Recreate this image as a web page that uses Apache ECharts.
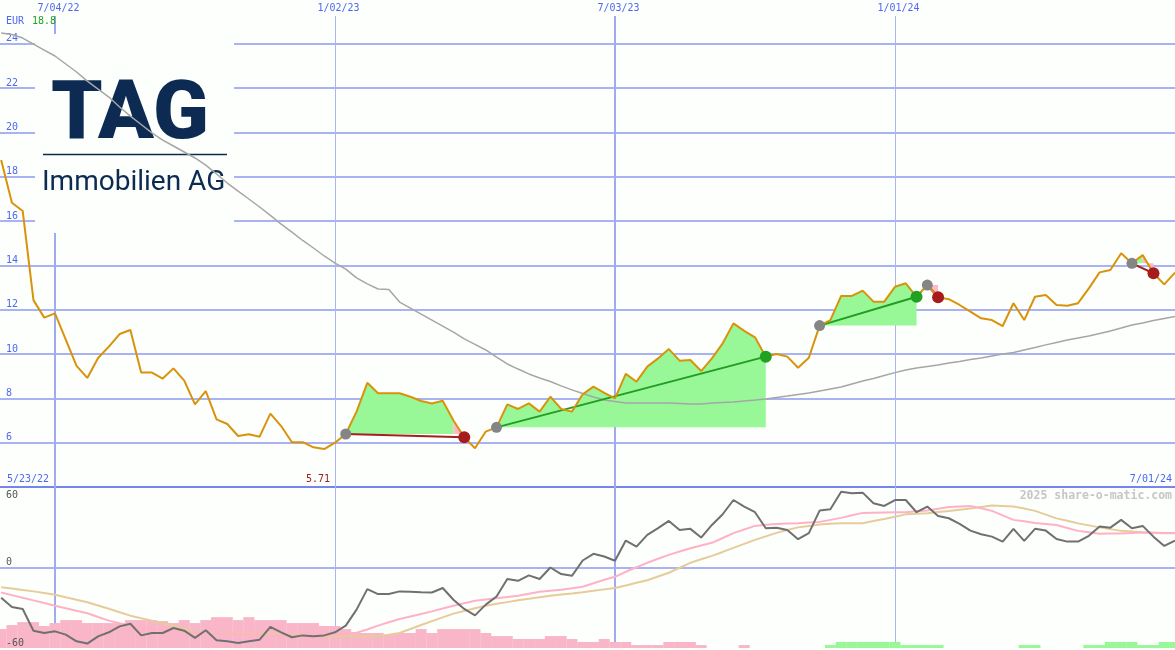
<!DOCTYPE html>
<html><head><meta charset="utf-8">
<script src="https://cdn.jsdelivr.net/npm/echarts@6/dist/echarts.min.js"></script>
<style>html,body{margin:0;padding:0;background:#fcfffc}#c{width:1175px;height:650px}</style>
</head><body><div id="c"></div><script>
// ---------------- data ----------------
const firstWeek = '2022-05-30';      // first weekly close shown
const axisOrigin = '2022-07-04';     // day-offset origin of the x scale
const dateTicks = ['2022-07-04', '2023-01-02', '2023-07-03', '2024-01-01'];
const priceTicks = [6, 8, 10, 12, 14, 16, 18, 20, 22, 24];
const oscTicksLow = [-60, 0];
const oscTicksHigh = [60];
const currency = 'EUR';
const startLabel = '5/23/22';
const endLabel = '7/01/24';
const brand = '2025 share-o-matic.com';

const price = [18.75, 16.82, 16.45, 12.43, 11.64, 11.83, 10.65, 9.46, 8.92, 9.82,
  10.33, 10.90, 11.08, 9.16, 9.16, 8.89, 9.35, 8.80, 7.73, 8.33,
  7.05, 6.84, 6.30, 6.38, 6.27, 7.31, 6.75, 6.02, 6.02, 5.79,
  5.71, 6.00, 6.39, 7.40, 8.70, 8.23, 8.23, 8.23, 8.07, 7.88,
  7.77, 7.89, 7.00, 6.24, 5.75, 6.50, 6.69, 7.73, 7.52, 7.77,
  7.40, 8.07, 7.52, 7.40, 8.18, 8.53, 8.25, 8.00, 9.10, 8.75,
  9.43, 9.80, 10.22, 9.70, 9.73, 9.23, 9.80, 10.48, 11.38, 11.04,
  10.75, 9.88, 10.00, 9.88, 9.38, 9.83, 11.28, 11.53, 12.62, 12.62,
  12.86, 12.36, 12.36, 13.03, 13.19, 12.58, 13.11, 12.56, 12.47, 12.21,
  11.91, 11.61, 11.53, 11.26, 12.29, 11.53, 12.58, 12.66, 12.21, 12.18,
  12.29, 12.96, 13.68, 13.79, 14.54, 14.09, 14.46, 13.64, 13.14, 13.67];

const movingAvg = [24.48, 24.41, 24.25, 23.98, 23.71, 23.44, 23.08, 22.72, 22.31, 21.95,
  21.59, 21.14, 20.73, 20.35, 19.97, 19.65, 19.38, 19.11, 18.84, 18.52,
  18.12, 17.71, 17.35, 16.99, 16.63, 16.25, 15.86, 15.50, 15.12, 14.78,
  14.42, 14.10, 13.83, 13.43, 13.16, 12.93, 12.91, 12.34, 12.07, 11.80,
  11.53, 11.26, 10.99, 10.68, 10.43, 10.18, 9.86, 9.55, 9.32, 9.10,
  8.92, 8.76, 8.56, 8.38, 8.22, 8.06, 7.92, 7.86, 7.79, 7.79,
  7.79, 7.79, 7.79, 7.77, 7.74, 7.74, 7.79, 7.81, 7.83, 7.88,
  7.92, 7.97, 8.04, 8.10, 8.17, 8.24, 8.33, 8.42, 8.51, 8.65,
  8.78, 8.89, 9.03, 9.16, 9.28, 9.37, 9.44, 9.50, 9.59, 9.66,
  9.75, 9.82, 9.91, 10.00, 10.07, 10.18, 10.29, 10.41, 10.52, 10.63,
  10.72, 10.81, 10.92, 11.04, 11.17, 11.31, 11.40, 11.51, 11.60, 11.69];

const oscillator = [-22.5, -29.4, -30.9, -47.1, -48.8, -47.6, -50.0, -55.0, -56.7, -51.3,
  -48.3, -43.9, -41.9, -50.6, -48.8, -48.8, -45.1, -47.1, -52.5, -46.8,
  -54.3, -55.0, -56.2, -55.0, -53.8, -44.3, -48.3, -52.0, -50.6, -51.3,
  -50.6, -48.3, -43.3, -31.4, -16.1, -19.8, -19.8, -17.8, -18.1, -18.4,
  -18.6, -15.3, -24.0, -30.9, -35.7, -27.7, -21.6, -8.6, -9.9, -5.9,
  -8.6, 0.0, -4.9, -6.2, 5.2, 10.2, 8.2, 5.0, 20.1, 15.6,
  24.3, 29.3, 34.7, 28.0, 28.8, 22.3, 31.7, 39.7, 50.3, 45.4,
  41.2, 29.3, 29.7, 28.0, 21.1, 25.6, 42.4, 43.4, 56.5, 55.3,
  55.8, 47.9, 45.9, 50.3, 50.3, 41.2, 45.4, 38.4, 36.7, 32.5,
  27.5, 24.8, 23.0, 19.3, 28.8, 19.9, 28.8, 27.5, 21.3, 19.3,
  19.3, 23.6, 30.5, 29.7, 35.5, 29.3, 31.0, 23.0, 16.1, 20.1];

const signalPink = [-18.6, -20.6, -22.6, -24.5, -26.5, -28.5, -30.4, -32.3, -34.1, -36.9,
  -39.6, -41.5, -43.3, -44.5, -45.6, -46.4, -47.1, -47.9, -48.6, -49.0,
  -49.3, -49.7, -50.0, -50.2, -50.4, -50.6, -50.8, -50.8, -50.8, -50.4,
  -50.0, -49.7, -49.3, -48.6, -46.2, -43.3, -40.8, -38.4, -36.5, -34.6,
  -32.7, -30.6, -28.5, -26.6, -24.8, -23.8, -22.9, -22.0, -21.0, -19.5,
  -18.1, -17.3, -16.6, -15.5, -14.3, -11.7, -9.1, -6.9, -3.2, 0.2,
  3.5, 6.5, 9.4, 11.9, 14.4, 16.4, 18.4, 22.0, 25.6, 28.3,
  31.0, 31.8, 32.5, 32.8, 33.0, 33.5, 34.0, 35.5, 37.0, 38.9,
  40.7, 40.9, 41.0, 41.1, 41.2, 41.9, 42.5, 43.8, 45.1, 45.5,
  45.9, 44.1, 42.2, 38.9, 35.5, 34.4, 33.2, 32.5, 31.7, 29.5,
  27.3, 26.2, 25.1, 25.3, 25.4, 25.7, 26.0, 25.9, 25.8, 25.8];

const signalTan = [-14.7, -15.7, -16.8, -17.8, -19.0, -20.3, -22.2, -24.0, -25.9, -28.3,
  -30.7, -33.3, -35.9, -37.8, -39.6, -41.5, -43.3, -45.6, -47.8, -48.5,
  -49.1, -49.2, -49.3, -49.3, -49.3, -49.6, -49.8, -50.0, -50.3, -50.8,
  -51.3, -51.3, -51.3, -51.3, -51.3, -51.3, -50.2, -48.8, -45.8, -42.9,
  -40.0, -37.2, -34.4, -32.4, -30.4, -28.5, -27.1, -25.8, -24.4, -23.3,
  -22.1, -21.0, -20.1, -19.3, -18.4, -17.4, -16.3, -15.3, -13.4, -11.4,
  -9.5, -6.7, -3.9, -0.2, 3.5, 6.1, 8.7, 11.6, 14.6, 17.6,
  20.6, 23.2, 25.8, 27.9, 29.9, 31.0, 32.1, 32.6, 33.0, 33.0,
  33.0, 34.6, 36.2, 37.9, 39.6, 40.0, 40.4, 41.3, 42.2, 43.1,
  44.0, 45.1, 46.2, 45.9, 45.5, 43.9, 42.2, 39.4, 36.6, 34.8,
  32.9, 31.4, 29.9, 28.6, 27.3, 26.8, 26.2, 25.9, 25.6, 25.6];

const histogram = [-14.1, -17.1, -19.3, -19.3, -16.4, -18.6, -20.8, -20.8, -18.6, -18.6,
  -18.6, -18.6, -20.8, -20.8, -20.8, -20.1, -18.6, -20.8, -18.6, -20.8,
  -23.0, -23.0, -20.8, -23.0, -20.8, -20.8, -20.8, -18.6, -18.6, -18.6,
  -16.4, -16.4, -14.1, -11.2, -11.2, -11.2, -9.7, -11.2, -11.2, -14.1,
  -11.2, -14.1, -14.1, -14.1, -14.1, -11.2, -8.9, -8.9, -6.7, -6.7,
  -6.7, -8.9, -8.9, -6.7, -4.5, -4.5, -6.7, -4.5, -4.5, -2.2,
  -2.2, -2.2, -4.5, -4.5, -4.5, -2.2, 0, 0, 0, -2.2,
  0, 0, 0, 0, 0, 0, 0, 2.2, 4.5, 4.5,
  4.5, 4.5, 4.5, 4.5, 2.2, 2.2, 2.2, 2.2, 0, 0,
  0, 0, 0, 0, 0, 2.2, 2.2, 0, 0, 0,
  0, 2.2, 2.2, 4.5, 4.5, 4.5, 2.2, 2.2, 4.5, 4.5];

// trades: week index of entry and exit
const tradeEntry = [32, 46, 76, 86, 105];
const tradeExit = [43, 71, 85, 87, 107];

// ---------------- helpers ----------------
const DAY = 86400000;
const originMs = Date.parse(axisOrigin);
const dayOf = s => (Date.parse(s) - originMs) / DAY;
const x0 = dayOf(firstWeek);
const weekX = price.map((_, i) => x0 + 7 * i);
const pairs = arr => arr.map((v, i) => [weekX[i], v]);
const fmtDate = v => {
  const d = new Date(originMs + Math.round(v) * DAY);
  return (d.getUTCMonth() + 1) + '/' + String(d.getUTCDate()).padStart(2, '0') + '/' + String(d.getUTCFullYear() % 100).padStart(2, '0');
};

const BG = '#fcfffc';
const BLUE_TXT = '#5068f0';
const GRID_C = '#a9b3f3';
const MONO = 'DejaVu Sans Mono';
const X_MIN = -35.75, X_MAX = 728;

const vlinesTop = dateTicks.map(s => {
  const july = s.slice(5, 7) === '07';
  return { xAxis: dayOf(s), lineStyle: { color: july ? '#a0aaf2' : '#abb4f3', width: july ? 2 : 1, type: 'solid' } };
});
const vlinesBottom = vlinesTop.map(d => ({ xAxis: d.xAxis, lineStyle: d.lineStyle }));

// ---------------- series ----------------
const series = [];

// trade fill areas
tradeEntry.forEach((e, t) => {
  const x = tradeExit[t], base = price[e];
  let runStart = e;
  for (let i = e; i < x; i++) {
    const up = price[i + 1] >= base;
    const last = i === x - 1;
    const nextUp = last ? null : price[i + 2] >= base;
    if (last || nextUp !== up) {
      const pts = [];
      for (let k = runStart; k <= i + 1; k++) pts.push([weekX[k], price[k]]);
      series.push({
        type: 'line', xAxisIndex: 0, yAxisIndex: 0, z: 10, data: pts, symbol: 'none', silent: true,
        lineStyle: { width: 0, opacity: 0 },
        areaStyle: { origin: base, color: up ? '#98f898' : '#ffb8c6', opacity: 1 }
      });
      runStart = i + 1;
    }
  }
});

// moving average (carries the top vertical grid lines)
series.push({
  type: 'line', xAxisIndex: 0, yAxisIndex: 0, z: 11, data: pairs(movingAvg), symbol: 'none', silent: true,
  lineStyle: { color: '#a6a6a6', width: 1.5 },
  markLine: {
    z: 5, silent: true, symbol: ['none', 'none'], animation: false,
    label: {
      show: true, position: 'end', formatter: p => fmtDate(p.value),
      color: BLUE_TXT, fontFamily: MONO, fontSize: 10, distance: 3, padding: [0, 0, 0, 7]
    },
    data: vlinesTop
  }
});

// trend lines of the trades
tradeEntry.forEach((e, t) => {
  const x = tradeExit[t];
  const win = price[x] >= price[e];
  series.push({
    type: 'line', xAxisIndex: 0, yAxisIndex: 0, z: 12, symbol: 'none', silent: true,
    data: [[weekX[e], price[e]], [weekX[x], price[x]]],
    lineStyle: { color: win ? '#229c22' : '#a42020', width: 2 }
  });
});

// price
series.push({
  type: 'line', xAxisIndex: 0, yAxisIndex: 0, z: 13, data: pairs(price), symbol: 'none', silent: true,
  lineStyle: { color: '#d9930b', width: 2 }
});

// entry markers
series.push({
  type: 'scatter', xAxisIndex: 0, yAxisIndex: 0, z: 14, silent: true, symbolSize: 11,
  itemStyle: { color: '#858585', opacity: 1 },
  data: tradeEntry.map(e => [weekX[e], price[e]])
});
// exit markers
series.push({
  type: 'scatter', xAxisIndex: 0, yAxisIndex: 0, z: 15, silent: true, symbolSize: 12,
  data: tradeExit.map((x, t) => ({
    value: [weekX[x], price[x]],
    itemStyle: { color: price[x] >= price[tradeEntry[t]] ? '#22a022' : '#a61c1c', opacity: 1 }
  }))
});

// lower panel: histogram bars
series.push({
  type: 'bar', xAxisIndex: 1, yAxisIndex: 3, z: 10, silent: true, barWidth: 11,
  data: histogram.map((h, i) => ({ value: [weekX[i], Math.abs(h)], itemStyle: { color: h < 0 ? '#f9b6c9' : '#98f898' } }))
});
series.push({
  type: 'line', xAxisIndex: 1, yAxisIndex: 1, z: 11, data: pairs(signalTan), symbol: 'none', silent: true,
  lineStyle: { color: '#e6cc9a', width: 2 },
  markLine: { z: 5, silent: true, symbol: ['none', 'none'], animation: false, label: { show: false }, data: vlinesBottom }
});
series.push({
  type: 'line', xAxisIndex: 1, yAxisIndex: 1, z: 12, data: pairs(signalPink), symbol: 'none', silent: true,
  lineStyle: { color: '#ffb2c6', width: 2 }
});
series.push({
  type: 'line', xAxisIndex: 1, yAxisIndex: 1, z: 13, data: pairs(oscillator), symbol: 'none', silent: true,
  lineStyle: { color: '#707070', width: 2 }
});

// ---------------- option ----------------
const minPrice = Math.min(...price);
const oscLabel = (ticks, va, pad) => ({
  type: 'value', gridIndex: 1, min: -60, max: 60, interval: 60, position: 'left', z: 30,
  axisLine: { show: false }, axisTick: { show: false }, splitLine: { show: false },
  axisLabel: {
    inside: true, margin: 6, color: '#555555', fontFamily: MONO, fontSize: 10, verticalAlign: va, padding: pad,
    formatter: v => ticks.includes(v) ? String(v) : ''
  }
});
const option = {
  backgroundColor: BG,
  animation: false,
  grid: [
    { left: 0, right: 0, top: 16, height: 471, containLabel: false, outerBoundsMode: 'none' },
    { left: 0, right: 0, top: 487, height: 161, containLabel: false, outerBoundsMode: 'none' }
  ],
  xAxis: [
    { type: 'value', gridIndex: 0, min: X_MIN, max: X_MAX, show: false },
    {
      type: 'value', gridIndex: 1, min: X_MIN, max: X_MAX, position: 'top',
      axisLine: { show: true, onZero: false, lineStyle: { color: '#7684ee', width: 2 } },
      axisTick: { show: false }, axisLabel: { show: false }, splitLine: { show: false }
    }
  ],
  yAxis: [
    {
      type: 'value', gridIndex: 0, min: 4, max: 25.245, interval: 2, position: 'left',
      axisLine: { show: false }, axisTick: { show: false },
      splitLine: { show: true, showMinLine: false, showMaxLine: false, lineStyle: { color: GRID_C, width: 2 } },
      axisLabel: {
        inside: true, margin: 6, color: BLUE_TXT, fontFamily: MONO, fontSize: 10, verticalAlign: 'bottom',
        formatter: v => priceTicks.includes(v) ? String(v) : ''
      }
    },
    {
      type: 'value', gridIndex: 1, min: -60, max: 60, interval: 60, position: 'left',
      axisLine: { show: false }, axisTick: { show: false }, axisLabel: { show: false },
      splitLine: { show: true, showMinLine: false, showMaxLine: false, lineStyle: { color: GRID_C, width: 2 } }
    },
    oscLabel(oscTicksLow, 'bottom', [0, 0, 0, 0]),
    { type: 'value', gridIndex: 1, min: 0, max: 120, show: false, position: 'right' },
    oscLabel(oscTicksHigh, 'top', [3, 0, 0, 0])
  ],
  graphic: [
    { type: 'rect', z: 8, silent: true, shape: { x: 35, y: 34, width: 199, height: 199 }, style: { fill: BG } },
    { type: 'text', z: 9, silent: true, x: 51, y: 117, style: { text: 'TAG', font: '900 82px Roboto', fill: '#0c2a52', align: 'left', verticalAlign: 'middle' } },
    { type: 'line', z: 9, silent: true, shape: { x1: 43, y1: 154.5, x2: 227, y2: 154.5 }, style: { stroke: '#0c2a52', lineWidth: 1.5 } },
    { type: 'text', z: 9, silent: true, x: 42, y: 183, style: { text: 'Immobilien AG', font: '400 28px Roboto', fill: '#0c2a52', align: 'left', verticalAlign: 'middle' } },
    { type: 'text', z: 20, silent: true, x: 6, y: 21, style: { text: currency, font: '10px ' + MONO, fill: BLUE_TXT, align: 'left', verticalAlign: 'middle' } },
    { type: 'text', z: 20, silent: true, x: 32, y: 21, style: { text: price[0].toFixed(1), font: '10px ' + MONO, fill: '#1f9f1f', align: 'left', verticalAlign: 'middle' } },
    { type: 'text', z: 20, silent: true, x: 7, y: 479, style: { text: startLabel, font: '10px ' + MONO, fill: BLUE_TXT, align: 'left', verticalAlign: 'middle' } },
    { type: 'text', z: 20, silent: true, x: 318, y: 479, style: { text: minPrice.toFixed(2), font: '10px ' + MONO, fill: '#a01c1c', align: 'center', verticalAlign: 'middle' } },
    { type: 'text', z: 20, silent: true, x: 1172, y: 479, style: { text: endLabel, font: '10px ' + MONO, fill: BLUE_TXT, align: 'right', verticalAlign: 'middle' } },
    { type: 'text', z: 20, silent: true, x: 1172, y: 496, style: { text: brand, font: 'bold 11.5px ' + MONO, fill: '#c6c6c6', align: 'right', verticalAlign: 'middle' } }
  ],
  series: series
};

const chart = echarts.init(document.getElementById('c'), null, { renderer: 'canvas', width: 1175, height: 650 });
chart.setOption(option);
</script></body></html>
